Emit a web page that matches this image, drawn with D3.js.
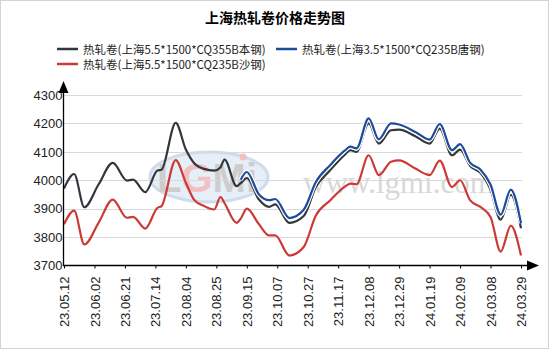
<!DOCTYPE html>
<html><head><meta charset="utf-8">
<script src="https://cdn.jsdelivr.net/npm/d3@7"></script>
<style>body{margin:0;background:#fff;} svg{display:block;font-family:"Liberation Sans",Arial,sans-serif;}</style>
</head><body><svg id="c" width="550" height="350"></svg>
<script>
const title = "上海热轧卷价格走势图";
const seriesNames = ["热轧卷(上海5.5*1500*CQ355B本钢)", "热轧卷(上海3.5*1500*CQ235B唐钢)", "热轧卷(上海5.5*1500*CQ235B沙钢)"];
const tickLabels = ["23.05.12","23.06.02","23.06.21","23.07.14","23.08.04","23.08.25","23.09.15","23.10.07","23.10.27","23.11.17","23.12.08","23.12.29","24.01.19","24.02.09","24.03.08","24.03.29"];
const yTicks = [3700,3800,3900,4000,4100,4200,4300];
// trading-day index of each sampled point (tick labels every 15 trading days)
const dayIdx = [0,5,10,17,24,31,34,40,46,48,55,60,64,69,74,77,79,85,87,90,96,101,104,111,118,124,131,138,141,144,150,155,161,165,173,180,185,191,195,200,205,210,215,220,225];
const benGang = [3971,4022,3905,3985,4061,3999,4002,3958,4034,4037,4202,4108,4061,4040,4034,4045,4073,3979,3990,4008,3932,3906,3915,3850,3874,3976,4035,4088,4106,4100,4200,4129,4176,4178,4155,4129,4182,4088,4108,4050,4026,3967,3861,3949,3831];
const tangGang = [null,null,null,null,null,null,null,null,null,null,null,null,null,null,null,null,null,null,4002,4029,3950,3930,3934,3867,3896,3994,4053,4103,4118,4112,4218,4144,4200,4196,4170,4143,4198,4106,4127,4061,4038,3985,3879,3967,3849];
const shaGang = [3845,3893,3774,3850,3932,3868,3871,3830,3903,3909,4071,3991,3932,3909,3897,3941,3920,3850,3865,3900,3845,3806,3806,3735,3765,3876,3929,3976,3988,3986,4088,4018,4065,4070,4041,4018,4069,3976,4000,3929,3906,3871,3749,3840,3735];
const colors = ["#33373b","#1e4b9b","#cc3a37"];

const svg = d3.select("#c");
svg.append("rect").attr("x",0.5).attr("y",0.5).attr("width",548).attr("height",348).attr("fill","#fff").attr("stroke","#d4d4d4");

const x = d3.scaleLinear().domain([0,225]).range([64,521]);
const y = d3.scaleLinear().domain([3700,4300]).range([265.5,95]);

// title
svg.append("text").attr("x",275).attr("y",23).attr("text-anchor","middle")
  .attr("font-size",14).attr("font-weight","bold").attr("font-family","'Noto Sans CJK SC',sans-serif").text(title);

// legend
const leg = [{i:0,lx:57,ly:49},{i:1,lx:276,ly:49},{i:2,lx:57,ly:64}];
leg.forEach(d=>{
  svg.append("line").attr("x1",d.lx).attr("x2",d.lx+21).attr("y1",d.ly).attr("y2",d.ly).attr("stroke",colors[d.i]).attr("stroke-width",2.5);
  svg.append("text").attr("x",d.lx+26).attr("y",d.ly+4.5).attr("font-size",11.5).attr("fill","#222")
    .attr("font-family","'Noto Sans CJK SC','Liberation Sans',sans-serif").text(seriesNames[d.i]);
});

// watermark
const wm = svg.append("g");
wm.append("ellipse").attr("cx",209).attr("cy",177).attr("rx",59).attr("ry",25).attr("fill","#e6eef7").attr("stroke","#cfdcec").attr("stroke-width",3);
wm.append("text").attr("x",207).attr("y",192).attr("text-anchor","middle").attr("font-size",40).attr("font-weight","bold")
  .attr("font-family","'Liberation Sans',Arial,sans-serif")
  .selectAll("tspan").data([["L","#cdcdcd"],["G","#f3c0c0"],["M","#cdcdcd"],["i","#cdcdcd"]]).join("tspan").attr("fill",d=>d[1]).text(d=>d[0]);
wm.append("circle").attr("cx",243).attr("cy",157).attr("r",3.5).attr("fill","#f3c0c0");
wm.append("text").attr("x",303).attr("y",193).attr("font-size",31).attr("font-family","'Liberation Serif','DejaVu Serif',serif")
  .attr("fill","#d8d8d8").text("www.lgmi.com");

// grid
svg.append("g").selectAll("line").data(yTicks.slice(1)).join("line")
  .attr("x1",63).attr("x2",522).attr("y1",d=>Math.round(y(d))+0.5).attr("y2",d=>Math.round(y(d))+0.5)
  .attr("stroke","#d9d9d9").attr("stroke-width",1);

// lines
const series = [benGang,tangGang,shaGang];
const line = d3.line().defined(d=>d[1]!=null).x(d=>x(d[0])).y(d=>y(d[1])).curve(d3.curveMonotoneX);
[2,0,1].forEach(si=>{
  const pts = dayIdx.map((dd,k)=>[dd,series[si][k]]);
  if (si===1) {
    svg.append("path").attr("d",line(pts)).attr("fill","none").attr("stroke","#fff").attr("stroke-width",4.5);
  }
  svg.append("path").attr("d",line(pts)).attr("fill","none").attr("stroke",colors[si]).attr("stroke-width",2.2).attr("stroke-linejoin","round");
});

// y axis
const yAx = svg.append("g").attr("transform","translate(63.5,0)")
  .call(d3.axisLeft(y).tickValues(yTicks).tickSize(0).tickFormat(d3.format("d")));
yAx.select(".domain").remove();
yAx.selectAll(".tick line").remove();
yAx.selectAll("text").attr("font-size",13).attr("fill","#222").attr("font-family","'Liberation Sans',Arial,sans-serif").attr("x",-1);
svg.append("line").attr("x1",63.5).attr("x2",63.5).attr("y1",90).attr("y2",266).attr("stroke","#000").attr("stroke-width",1.3);
svg.append("path").attr("d","M63.5,81 L58.5,93 L68.5,93 Z").attr("fill","#000");

// x axis
const xAx = svg.append("g").attr("transform","translate(0,265.5)")
  .call(d3.axisBottom(x).tickValues(d3.range(0,226,15)).tickSize(3).tickFormat((d,i)=>tickLabels[i]));
xAx.select(".domain").remove();
xAx.selectAll(".tick line").attr("stroke","#000");
xAx.selectAll("text").attr("font-size",13).attr("fill","#222").attr("font-family","'Liberation Sans',Arial,sans-serif")
  .attr("transform","rotate(-90)").attr("text-anchor","end").attr("x",-11).attr("y",0).attr("dy","0.35em");
svg.append("line").attr("x1",63).attr("x2",530).attr("y1",265.5).attr("y2",265.5).attr("stroke","#000").attr("stroke-width",1.3);
svg.append("path").attr("d","M539,265.5 L527,260.5 L527,270.5 Z").attr("fill","#000");
</script></body></html>
